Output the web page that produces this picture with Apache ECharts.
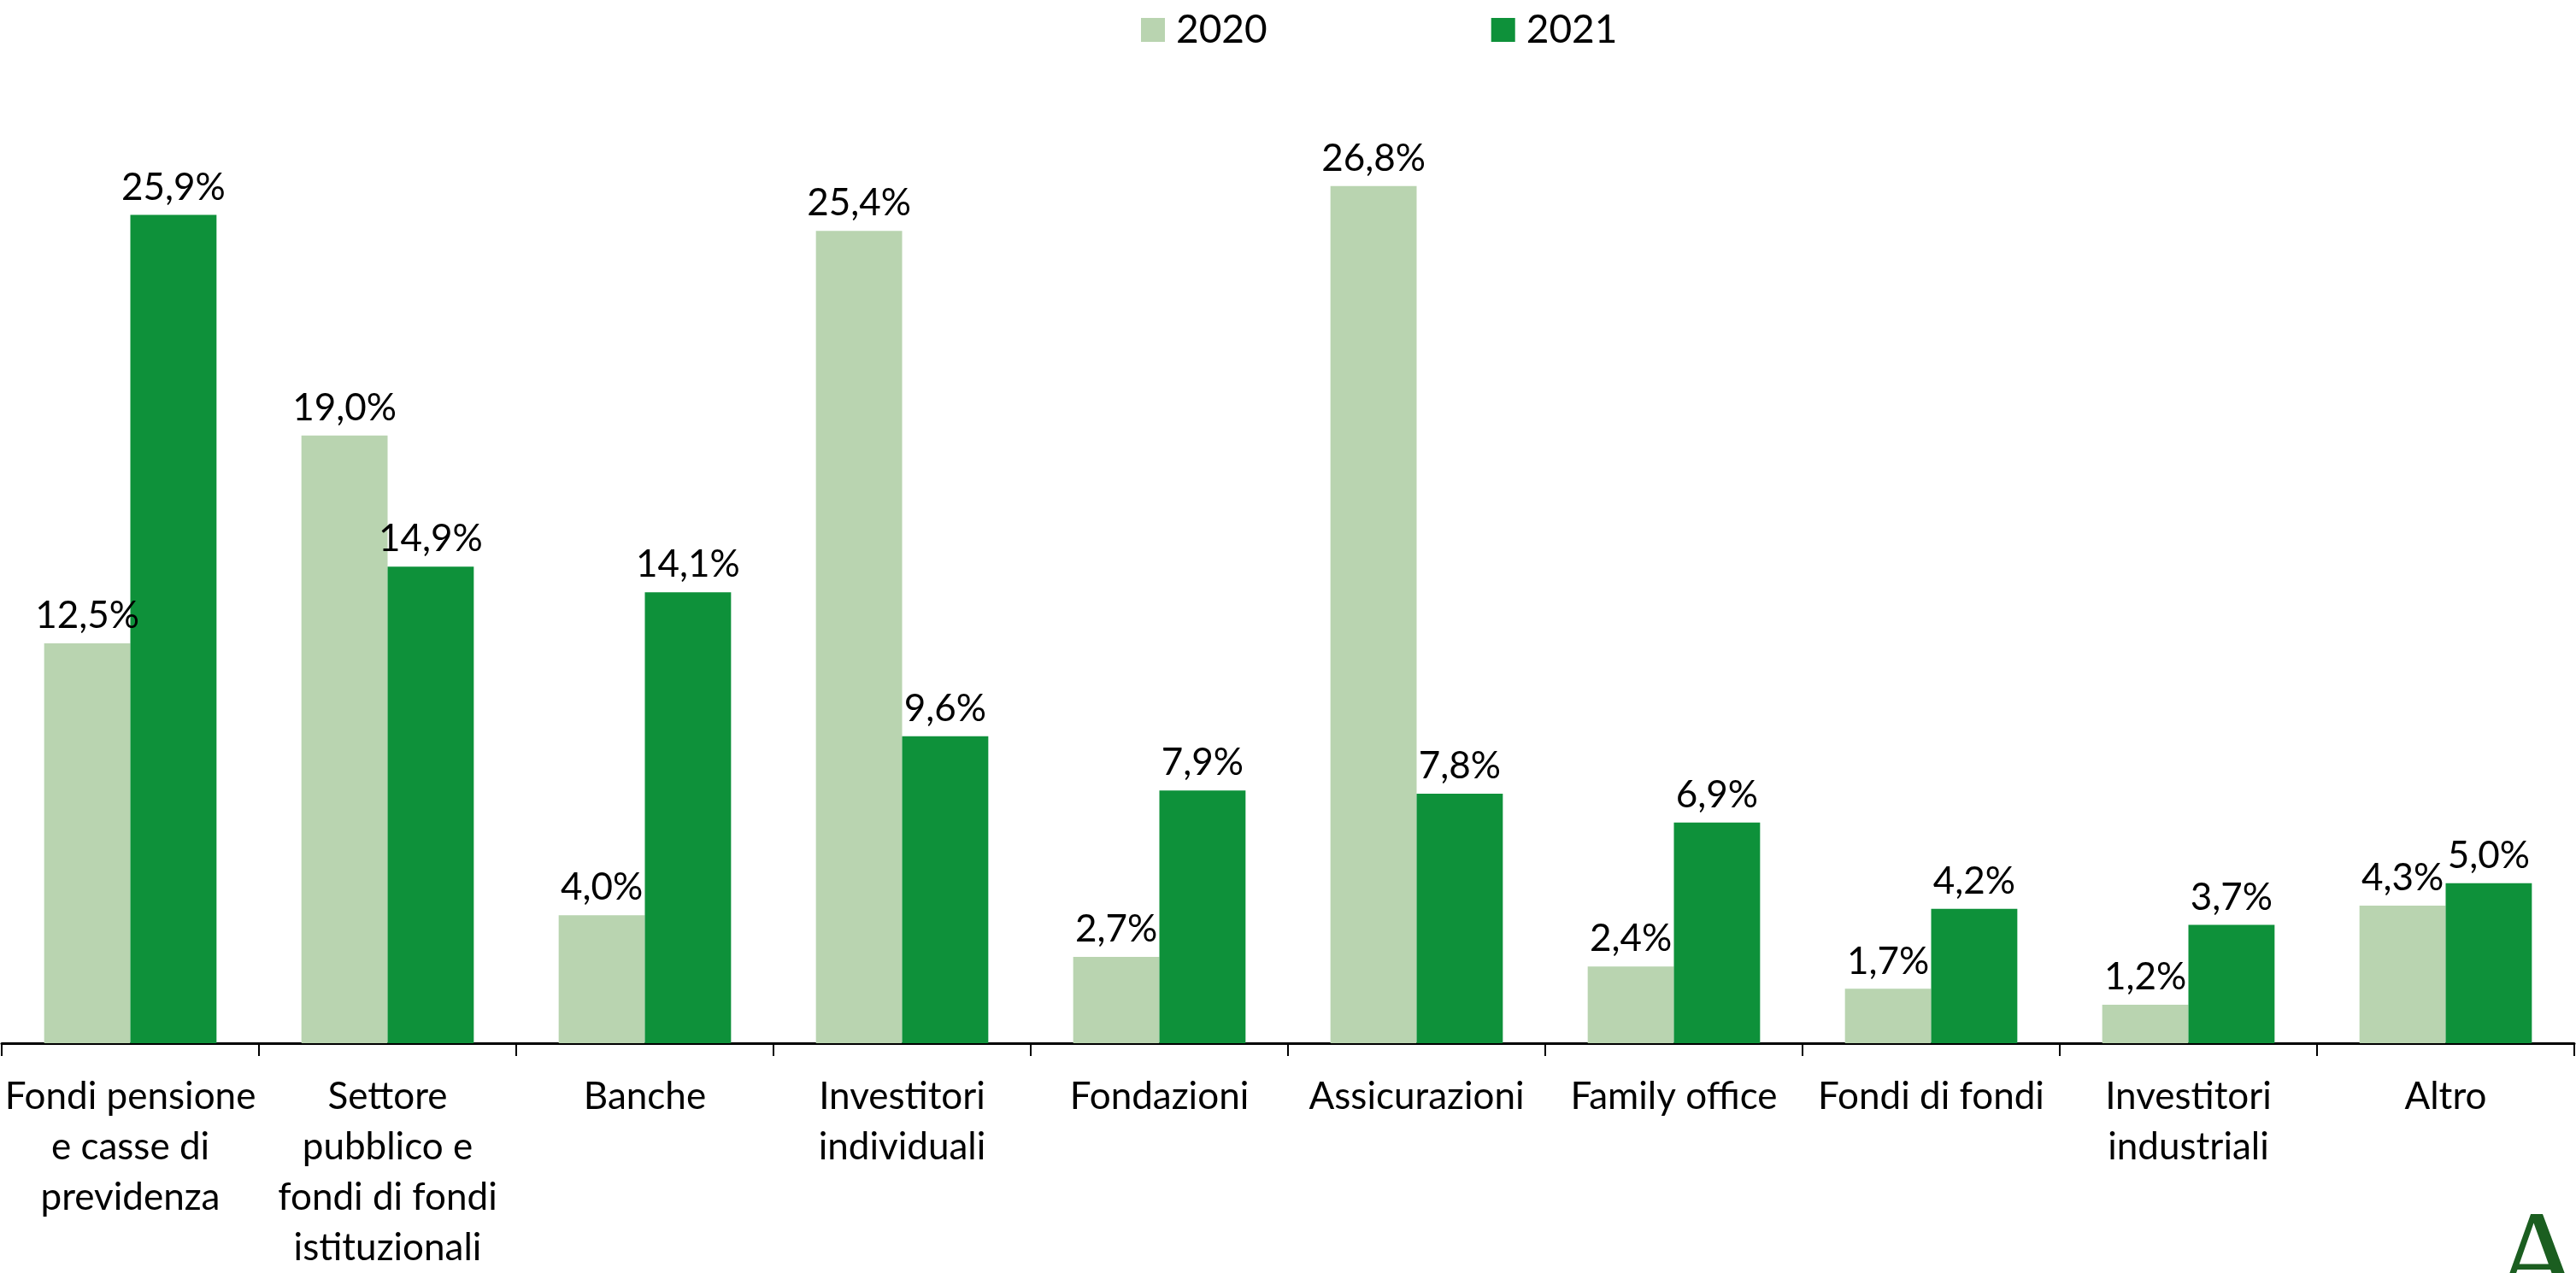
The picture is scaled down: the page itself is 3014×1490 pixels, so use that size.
<!DOCTYPE html>
<html>
<head>
<meta charset="utf-8">
<title>Investitori 2020 - 2021</title>
<script src="https://cdn.jsdelivr.net/npm/echarts@6/dist/echarts.min.js"></script>
<style>
html, body {
    margin: 0;
    padding: 0;
    background: #ffffff;
}
#chart {
    width: 3014px;
    height: 1490px;
}
</style>
</head>
<body>
<div id="chart"></div>
<script>
// categorie (asse x)
var categories = [
    'Fondi pensione\ne casse di\nprevidenza',
    'Settore\npubblico e\nfondi di fondi\nistituzionali',
    'Banche',
    'Investitori\nindividuali',
    'Fondazioni',
    'Assicurazioni',
    'Family office',
    'Fondi di fondi',
    'Investitori\nindustriali',
    'Altro'
];
var seriesNames = ['2020', '2021'];
var values2020 = [12.5, 19.0, 4.0, 25.4, 2.7, 26.8, 2.4, 1.7, 1.2, 4.3];
var values2021 = [25.9, 14.9, 14.1, 9.6, 7.9, 7.8, 6.9, 4.2, 3.7, 5.0];

var myChart = echarts.init(document.getElementById('chart'));
var option;

var fontName = 'Lato';

// etichetta percentuale con virgola
function pct(p) {
    return p.value.toFixed(1).replace('.', ',') + '%';
}

var barLabel = {
    show: true,
    position: 'top',
    distance: 10,
    formatter: pct,
    color: '#000',
    fontFamily: fontName,
    fontSize: 44
};

option = {
    animation: false,
    backgroundColor: '#ffffff',
    legend: {
        left: 1330,
        top: 7,
        itemWidth: 28,
        itemHeight: 28,
        itemGap: 262,
        icon: 'rect',
        textStyle: {
            color: '#000',
            fontFamily: fontName,
            fontSize: 46,
            padding: [0, 0, 0, 8]
        },
        data: seriesNames
    },
    grid: {
        left: 2,
        right: 2,
        top: 98,
        bottom: 259
    },
    xAxis: {
        type: 'category',
        data: categories,
        axisLine: {
            lineStyle: {
                color: '#000',
                width: 3
            }
        },
        axisTick: {
            show: true,
            length: 15,
            lineStyle: {
                color: '#000',
                width: 2
            }
        },
        axisLabel: {
            interval: 0,
            margin: 33,
            color: '#000',
            fontFamily: fontName,
            fontSize: 44,
            lineHeight: 59,
            hideOverlap: false
        }
    },
    yAxis: {
        type: 'value',
        min: 0,
        max: 30,
        show: false,
        splitLine: { show: false }
    },
    series: [
        {
            name: seriesNames[0],
            type: 'bar',
            data: values2020,
            barGap: '0%',
            barCategoryGap: '33%',
            itemStyle: { color: '#B9D4B0' },
            label: barLabel
        },
        {
            name: seriesNames[1],
            type: 'bar',
            data: values2021,
            itemStyle: { color: '#0E913A' },
            label: barLabel
        }
    ],
    graphic: [
        {
            // logo in basso a destra (tagliato dal bordo)
            type: 'text',
            left: 2915,
            top: 1406,
            silent: true,
            style: {
                text: 'A',
                fill: '#1B5E20',
                font: '150px "Liberation Serif", "DejaVu Serif", serif'
            }
        }
    ]
};

option && myChart.setOption(option);

window.addEventListener('resize', function () {
    myChart.resize();
});
</script>
</body>
</html>
